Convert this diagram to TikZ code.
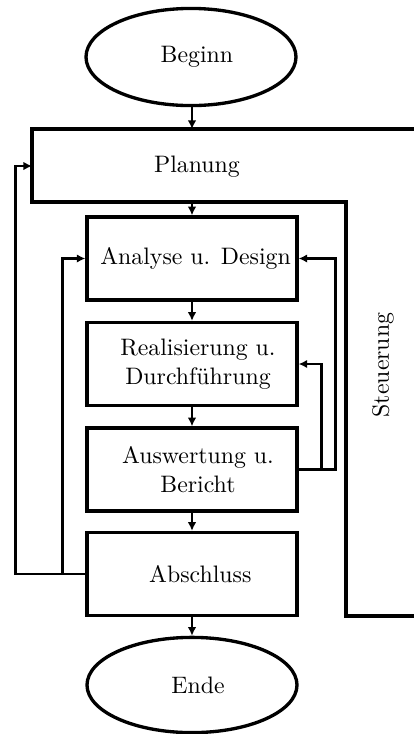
\documentclass[tikz,border=0pt]{standalone}
\usetikzlibrary{arrows.meta,shapes.geometric}
\begin{document}
\begin{tikzpicture}[x=0.42pt,y=-0.42pt,
  frame/.style={draw,line width=1.4pt},
  stepbox/.style={frame,rectangle,minimum width=88.2pt,minimum height=34.9pt,inner sep=0pt},
  terminal/.style={frame,ellipse,minimum width=88.2pt,minimum height=40.8pt,inner sep=0pt},
  conn/.style={line width=1.2pt,-{Latex[length=3.6pt,width=3.6pt]}},
  txt/.style={font=\normalsize,align=center}]
\useasboundingbox (0,0) rectangle (414,734);
\begin{scope}
\clip (0,0) rectangle (414,734);
% combined Planung / Steuerung area
\draw[line width=1.4pt] (430,129) -- (32,129) -- (32,202) -- (346,202) -- (346,616) -- (430,616);
\end{scope}
\node[txt] (planung) at (197,167) {Planung};
\node[txt,rotate=90] (steuerung) at (383,365) {Steuerung};
\coordinate (plantop) at (192,129);
\coordinate (planbot) at (192,202);
\coordinate (planleft) at (32,166);

\node[terminal,label={[txt,xshift=2.5pt]center:Beginn}] (beginn) at (191,57) {};
\node[stepbox,label={[txt,xshift=1.5pt]center:Analyse u. Design}] (analyse) at (192,258.5) {};
\node[stepbox,label={[txt,xshift=2.5pt]center:{Realisierung u.\\ Durchführung}}] (real) at (192,364) {};
\node[stepbox,label={[txt,xshift=2.5pt]center:{Auswertung u.\\ Bericht}}] (ausw) at (192,469.5) {};
\node[stepbox,label={[txt,xshift=3.5pt]center:Abschluss}] (absch) at (192,574) {};
\node[terminal,minimum height=40pt,label={[txt,xshift=2.5pt]center:Ende}] (ende) at (192,685) {};

% main flow
\draw[conn] (beginn.south -| plantop) -- (plantop);
\draw[conn] (planbot) -- (analyse);
\draw[conn] (analyse) -- (real);
\draw[conn] (real) -- (ausw);
\draw[conn] (ausw) -- (absch);
\draw[conn] (absch) -- (ende);

% feedback loops
\draw[conn] (absch.west) -- ++(-70,0) |- (planleft);
\draw[conn] (absch.west) -- ++(-23,0) |- (analyse.west);
\draw[conn] (ausw.east) -- ++(23,0) |- (real.east);
\draw[conn] (ausw.east) -- ++(37,0) |- (analyse.east);
\end{tikzpicture}
\end{document}
